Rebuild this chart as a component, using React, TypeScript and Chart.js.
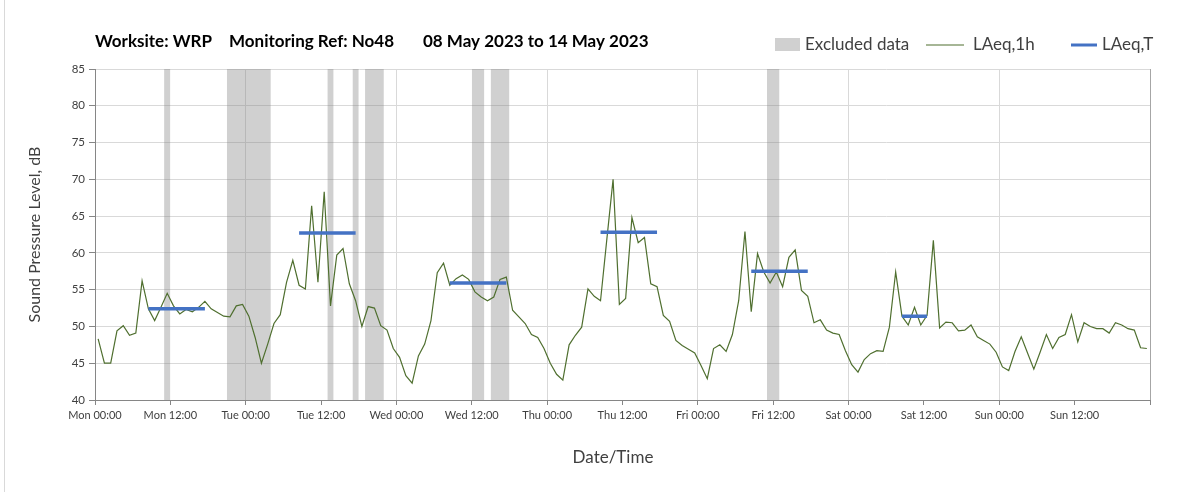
import React, { useEffect, useRef } from 'react';
import { Chart, registerables } from 'chart.js';

Chart.register(...registerables);

// Hourly LAeq,1h values (hour index 0 = Mon 00:00-01:00)
const hourlyLevels: number[] = [
  48.3, 45.0, 45.0, 49.4, 50.1, 48.8, 49.1, 56.2, 52.4, 50.8, 52.6, 54.5,
  52.8, 51.7, 52.3, 52.0, 52.6, 53.4, 52.4, 51.9, 51.4, 51.3, 52.8, 53.0,
  51.4, 48.5, 45.0, 47.6, 50.4, 51.6, 56.0, 59.0, 55.6, 55.1, 66.4, 56.0,
  68.3, 52.8, 59.7, 60.6, 55.8, 53.5, 50.0, 52.7, 52.5, 50.1, 49.5, 47.0,
  45.8, 43.3, 42.3, 46.0, 47.6, 50.8, 57.3, 58.6, 55.6, 56.5, 57.0, 56.4,
  54.7, 54.0, 53.5, 54.0, 56.4, 56.7, 52.2, 51.3, 50.4, 48.9, 48.5, 47.0,
  45.0, 43.5, 42.7, 47.5, 48.8, 49.9, 55.1, 54.1, 53.5, 61.8, 70.0, 53.0,
  53.8, 64.8, 61.4, 62.1, 55.8, 55.4, 51.5, 50.7, 48.1, 47.4, 46.9, 46.4,
  44.7, 42.9, 47.0, 47.5, 46.6, 48.9, 53.5, 62.9, 52.0, 59.9, 57.4, 55.9,
  57.4, 55.4, 59.4, 60.4, 54.9, 54.1, 50.5, 50.9, 49.5, 49.1, 48.9, 46.7,
  44.8, 43.8, 45.5, 46.3, 46.7, 46.6, 49.9, 57.4, 51.4, 50.2, 52.6, 50.2,
  51.5, 61.7, 49.8, 50.6, 50.5, 49.4, 49.5, 50.2, 48.6, 48.1, 47.6, 46.5,
  44.5, 44.0, 46.6, 48.6, 46.4, 44.2, 46.5, 48.9, 47.0, 48.5, 48.9, 51.6,
  47.9, 50.5, 50.0, 49.7, 49.7, 49.1, 50.5, 50.2, 49.7, 49.5, 47.1, 47.0,
];

// Excluded data periods (hours from Mon 00:00)
const excludedStart: number[] = [11, 21, 37, 41, 43, 60, 63, 107];
const excludedEnd: number[] = [12, 28, 38, 42, 46, 62, 66, 109];

// LAeq,T periods (hours from Mon 00:00) and levels
const periodStart: number[] = [8.5, 32.5, 56.5, 80.5, 104.5, 128.5];
const periodEnd: number[] = [17.5, 41.5, 65.5, 89.5, 113.5, 132.5];
const periodLevels: number[] = [52.4, 62.7, 55.9, 62.8, 57.5, 51.4];

const xTickLabels: string[] = [
  'Mon 00:00', 'Mon 12:00', 'Tue 00:00', 'Tue 12:00', 'Wed 00:00', 'Wed 12:00',
  'Thu 00:00', 'Thu 12:00', 'Fri 00:00', 'Fri 12:00', 'Sat 00:00', 'Sat 12:00',
  'Sun 00:00', 'Sun 12:00',
];
const yTickValues: number[] = [40, 45, 50, 55, 60, 65, 70, 75, 80, 85];

const titleParts: string[] = ['Worksite: WRP', 'Monitoring Ref: No48', '08 May 2023 to 14 May 2023'];
const xAxisTitle = 'Date/Time';
const yAxisTitle = 'Sound Pressure Level, dB';

const FONT = 'Lato, "Open Sans", sans-serif';
const TEXT = '#404040';

export default function App() {
  const canvasRef = useRef<HTMLCanvasElement | null>(null);

  useEffect(() => {
    document.body.style.margin = '0';
    const canvas = canvasRef.current;
    if (!canvas) return;

    const lineData = hourlyLevels.map((v, i) => ({ x: i + 0.5, y: v }));

    const bandData: { x: number; y: number | null }[] = [];
    excludedStart.forEach((s, i) => {
      bandData.push({ x: s, y: 85 });
      bandData.push({ x: excludedEnd[i], y: 85 });
      bandData.push({ x: excludedEnd[i], y: null });
    });

    const periodData: { x: number; y: number | null }[] = [];
    periodStart.forEach((s, i) => {
      periodData.push({ x: s, y: periodLevels[i] });
      periodData.push({ x: periodEnd[i], y: periodLevels[i] });
      periodData.push({ x: periodEnd[i], y: null });
    });

    const decor = {
      id: 'decor',
      beforeDraw(chart: any) {
        const { ctx, width, height } = chart;
        ctx.save();
        ctx.fillStyle = '#ffffff';
        ctx.fillRect(0, 0, width, height);
        ctx.strokeStyle = '#d9d9d9';
        ctx.lineWidth = 1;
        ctx.beginPath();
        ctx.moveTo(4.5, 0);
        ctx.lineTo(4.5, height);
        ctx.stroke();
        ctx.restore();
      },
      afterDraw(chart: any) {
        const { ctx } = chart;
        const left = chart.chartArea.left;
        ctx.save();
        // Title
        ctx.fillStyle = '#000000';
        ctx.font = `bold 17px ${FONT}`;
        ctx.textBaseline = 'middle';
        ctx.textAlign = 'left';
        const titleX = [left, left + 134, left + 328];
        titleParts.forEach((t, i) => ctx.fillText(t, titleX[i], 42));

        // Legend
        const ds = chart.data.datasets;
        const ly = 45;
        ctx.font = `17px ${FONT}`;
        ctx.fillStyle = '#d0d0d0';
        ctx.fillRect(775, 38, 25, 13);
        ctx.fillStyle = TEXT;
        ctx.fillText(ds[0].label, 805, ly);

        ctx.strokeStyle = ds[1].borderColor;
        ctx.lineWidth = 1.2;
        ctx.beginPath();
        ctx.moveTo(926, ly);
        ctx.lineTo(964, ly);
        ctx.stroke();
        ctx.fillText(ds[1].label, 973, ly);

        ctx.strokeStyle = ds[2].borderColor;
        ctx.lineWidth = 3;
        ctx.beginPath();
        ctx.moveTo(1071, ly);
        ctx.lineTo(1097, ly);
        ctx.stroke();
        ctx.fillText(ds[2].label, 1102, ly);

        // X axis title
        ctx.font = `17px ${FONT}`;
        ctx.textAlign = 'center';
        ctx.fillText(xAxisTitle, 613, 458);
        ctx.restore();
      },
    };

    const chart = new Chart(canvas, {
      type: 'line',
      data: {
        datasets: [
          {
            label: 'Excluded data',
            data: bandData as any,
            borderWidth: 0,
            borderColor: 'rgba(0,0,0,0)',
            backgroundColor: 'rgba(128,128,128,0.37)',
            fill: 'start',
            pointRadius: 0,
            spanGaps: false,
            order: 3,
          },
          {
            label: 'LAeq,1h',
            data: lineData,
            borderColor: '#4f6f2f',
            borderWidth: 1.2,
            pointRadius: 0,
            tension: 0,
            fill: false,
            order: 2,
          },
          {
            label: 'LAeq,T',
            data: periodData as any,
            borderColor: '#4472c4',
            borderWidth: 3.5,
            pointRadius: 0,
            fill: false,
            spanGaps: false,
            order: 1,
          },
        ],
      },
      options: {
        responsive: false,
        maintainAspectRatio: false,
        animation: false,
        parsing: false as any,
        layout: { padding: { top: 69, right: 53, left: 0, bottom: 0 } },
        plugins: {
          legend: { display: false },
          title: { display: false },
          tooltip: { enabled: false },
        },
        scales: {
          x: {
            type: 'linear',
            min: 0,
            max: 168,
            afterBuildTicks: (s: any) => {
              s.ticks = xTickLabels.map((_, i) => ({ value: i * 12 })).concat([{ value: 168 }]);
            },
            afterFit: (s: any) => {
              s.height = 92;
            },
            ticks: {
              autoSkip: false,
              maxRotation: 0,
              minRotation: 0,
              padding: 4,
              color: TEXT,
              font: { family: FONT, size: 11 },
              callback: (v: any) => {
                const k = Math.round(Number(v) / 12);
                return k < xTickLabels.length ? xTickLabels[k] : '';
              },
            },
            grid: {
              color: (c: any) => {
                const v = c.tick ? c.tick.value : -1;
                if (v === 168) return '#a6a6a6';
                return v % 24 === 0 ? '#d9d9d9' : 'rgba(0,0,0,0)';
              },
              tickColor: '#868686',
              tickLength: 5,
              lineWidth: 1,
            },
            border: { color: '#868686', width: 1 },
            title: { display: false },
          },
          y: {
            type: 'linear',
            min: 40,
            max: 85,
            afterBuildTicks: (s: any) => {
              s.ticks = yTickValues.map((v) => ({ value: v }));
            },
            afterFit: (s: any) => {
              s.width = 95;
            },
            ticks: {
              padding: 4,
              color: TEXT,
              font: { family: FONT, size: 11.5 },
            },
            grid: {
              color: '#d9d9d9',
              tickColor: '#868686',
              tickLength: 6,
              lineWidth: 1,
            },
            border: { color: '#868686', width: 1 },
            title: {
              display: true,
              text: yAxisTitle,
              color: TEXT,
              font: { family: FONT, size: 16 },
              padding: { top: 25, bottom: 0 },
            },
          },
        },
      },
      plugins: [decor],
    });

    return () => {
      chart.destroy();
    };
  }, []);

  return (
    <div style={{ width: 1203, height: 492, position: 'relative' }}>
      <canvas ref={canvasRef} width={1203} height={492} style={{ display: 'block' }} />
    </div>
  );
}
